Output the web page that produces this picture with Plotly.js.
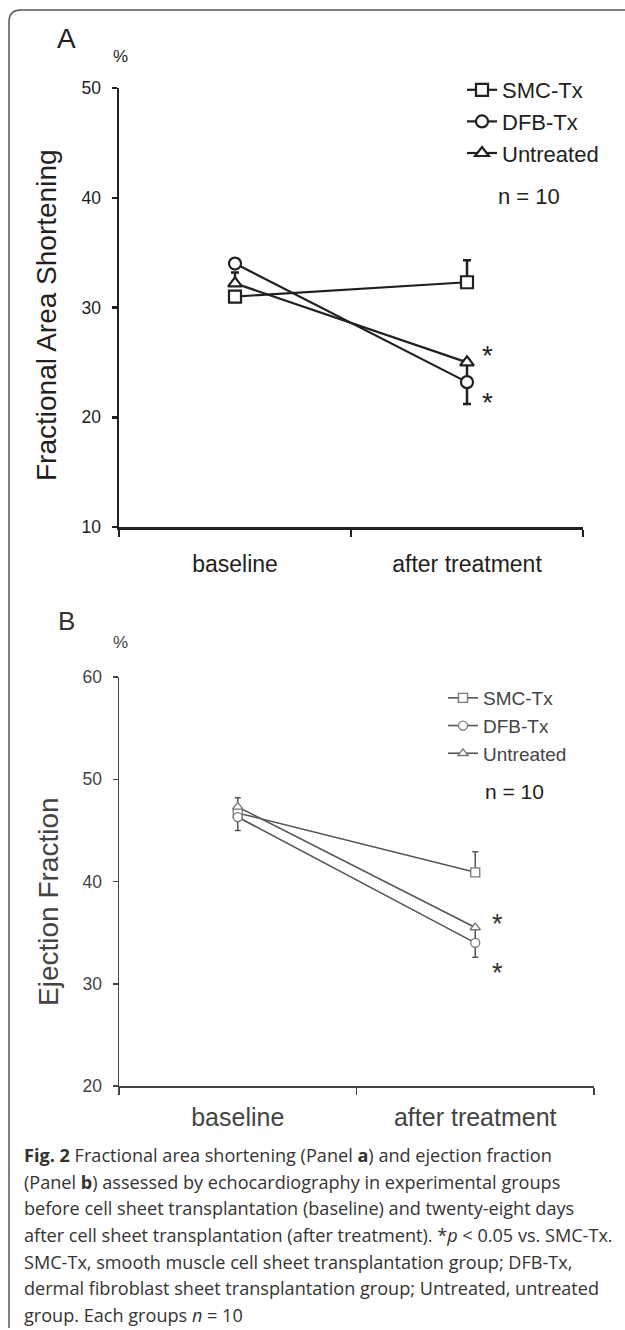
<!DOCTYPE html>
<html>
<head>
<meta charset="utf-8">
<script src="https://cdn.plot.ly/plotly-3.0.1.min.js"></script>
<style>html,body{margin:0;padding:0;background:#fff;}#chart{width:625px;height:1330px;}</style>
</head>
<body>
<div id="chart"></div>
<script>
// ---- data ----
const categories = ["baseline", "after treatment"];
const groups = ["SMC-Tx", "DFB-Tx", "Untreated"];

// Panel A: Fractional Area Shortening (%)
const fasSMC = [31.0, 32.3];
const fasSMCErrUp = [0, 2.0];
const fasSMCErrDown = [0, 0];
const fasDFB = [34.0, 23.2];
const fasDFBErrUp = [0, 2.0];
const fasDFBErrDown = [0, 2.0];
const fasUnt = [32.2, 25.0];
const fasUntErrUp = [1.0, 0];
const fasUntErrDown = [0, 0];

// Panel B: Ejection Fraction (%)
const efSMC = [46.7, 40.9];
const efSMCErrUp = [0, 2.0];
const efSMCErrDown = [0, 0];
const efDFB = [46.3, 34.0];
const efDFBErrUp = [0, 1.4];
const efDFBErrDown = [1.3, 1.4];
const efUnt = [47.3, 35.5];
const efUntErrUp = [0.9, 0];
const efUntErrDown = [0, 0];

const fasTicks = [10, 20, 30, 40, 50];
const efTicks = [20, 30, 40, 50, 60];
const nLabel = "n = 10";

// ---- helpers ----
const W = 625, H = 1330;
const px = v => v / W;
const py = v => 1 - v / H;
const xIdx = categories.map((c, i) => i);

const inkA = "#231f20";
const inkB = "#555555";
const symbols = ["square", "circle", "triangle-up"];

function traceA(name, y, up, down, sym) {
  return {
    type: "scatter", mode: "lines+markers", name: name,
    x: xIdx, y: y, xaxis: "x", yaxis: "y", legend: "legend",
    line: {color: inkA, width: 2.2},
    marker: {symbol: sym, size: 12, color: "#ffffff", line: {color: inkA, width: 2.2}},
    error_y: {type: "data", symmetric: false, array: up, arrayminus: down,
              color: inkA, thickness: 2.5, width: 4},
    cliponaxis: false
  };
}
function traceB(name, y, up, down, sym) {
  return {
    type: "scatter", mode: "lines+markers", name: name,
    x: xIdx, y: y, xaxis: "x2", yaxis: "y2", legend: "legend2",
    line: {color: inkB, width: 1.6},
    marker: {symbol: sym, size: 9, color: "#ffffff", line: {color: "#777777", width: 1.3}},
    error_y: {type: "data", symmetric: false, array: up, arrayminus: down,
              color: inkB, thickness: 1.5, width: 3},
    cliponaxis: false
  };
}

const data = [
  traceA(groups[0], fasSMC, fasSMCErrUp, fasSMCErrDown, symbols[0]),
  traceA(groups[1], fasDFB, fasDFBErrUp, fasDFBErrDown, symbols[1]),
  traceA(groups[2], fasUnt, fasUntErrUp, fasUntErrDown, symbols[2]),
  traceB(groups[0], efSMC, efSMCErrUp, efSMCErrDown, symbols[0]),
  traceB(groups[1], efDFB, efDFBErrUp, efDFBErrDown, symbols[1]),
  traceB(groups[2], efUnt, efUntErrUp, efUntErrDown, symbols[2])
];

const fontA = "Liberation Sans, Arial, sans-serif";
const capFont = "Open Sans, Noto Sans, sans-serif";

function xAxis(domain, anchor, ink, lw, size, standoff) {
  return {
    domain: domain, anchor: anchor, range: [-0.5, 1.5], fixedrange: true,
    tickmode: "array", tickvals: xIdx, ticktext: categories, ticks: "",
    ticklabelstandoff: standoff,
    tickfont: {family: fontA, size: size, color: ink},
    showline: true, linewidth: lw, linecolor: ink, showgrid: false, zeroline: false,
    minor: {tickmode: "array", tickvals: [-0.5, 0.5, 1.5], ticks: "outside",
            ticklen: 7, tickwidth: lw, tickcolor: ink, showgrid: false}
  };
}
function yAxis(domain, anchor, range, ticks, ink, lw) {
  return {
    domain: domain, anchor: anchor, range: range, fixedrange: true,
    tickmode: "array", tickvals: ticks, ticks: "outside", ticklen: 5,
    tickwidth: lw, tickcolor: ink, ticklabelstandoff: 7,
    tickfont: {family: fontA, size: 17.5, color: ink},
    showline: true, linewidth: lw, linecolor: ink, showgrid: false, zeroline: false
  };
}

const captionLines = [
  "<b>Fig. 2</b> Fractional area shortening (Panel <b>a</b>) and ejection fraction",
  "(Panel <b>b</b>) assessed by echocardiography in experimental groups",
  "before cell sheet transplantation (baseline) and twenty-eight days",
  "after cell sheet transplantation (after treatment). *<i>p</i> &lt; 0.05 vs. SMC-Tx.",
  "SMC-Tx, smooth muscle cell sheet transplantation group; DFB-Tx,",
  "dermal fibroblast sheet transplantation group; Untreated, untreated",
  "group. Each groups <i>n</i> = 10"
];
const captionY = [1155, 1182, 1208, 1235, 1262, 1288, 1315];

const annotations = [
  {text: "A", xref: "paper", yref: "paper", x: px(66), y: py(38), xanchor: "center", yanchor: "middle",
   showarrow: false, font: {family: fontA, size: 28, color: inkA}},
  {text: "%", xref: "paper", yref: "paper", x: px(120), y: py(57), xanchor: "center", yanchor: "middle",
   showarrow: false, font: {family: fontA, size: 17, color: inkA}},
  {text: "Fractional Area Shortening", xref: "paper", yref: "paper", x: px(47), y: py(315),
   xanchor: "center", yanchor: "middle", textangle: -90, showarrow: false,
   font: {family: fontA, size: 28, color: inkA}},
  {text: nLabel, xref: "paper", yref: "paper", x: px(529), y: py(197), xanchor: "center", yanchor: "middle",
   showarrow: false, font: {family: fontA, size: 22, color: inkA}},
  {text: "*", xref: "x", yref: "y", x: 1, y: 25.6, xshift: 20, xanchor: "center", yanchor: "middle",
   showarrow: false, font: {family: fontA, size: 28, color: inkA}},
  {text: "*", xref: "x", yref: "y", x: 1, y: 21.3, xshift: 20, xanchor: "center", yanchor: "middle",
   showarrow: false, font: {family: fontA, size: 28, color: inkA}},

  {text: "B", xref: "paper", yref: "paper", x: px(66), y: py(621), xanchor: "center", yanchor: "middle",
   showarrow: false, font: {family: fontA, size: 26, color: "#333"}},
  {text: "%", xref: "paper", yref: "paper", x: px(120), y: py(642), xanchor: "center", yanchor: "middle",
   showarrow: false, font: {family: fontA, size: 17, color: "#444"}},
  {text: "Ejection Fraction", xref: "paper", yref: "paper", x: px(48), y: py(901),
   xanchor: "center", yanchor: "middle", textangle: -90, showarrow: false,
   font: {family: fontA, size: 28, color: "#444"}},
  {text: nLabel, xref: "paper", yref: "paper", x: px(514), y: py(791), xanchor: "center", yanchor: "middle",
   showarrow: false, font: {family: fontA, size: 21, color: "#222"}},
  {text: "*", xref: "x2", yref: "y2", x: 1, y: 35.8, xshift: 22, xanchor: "center", yanchor: "middle",
   showarrow: false, font: {family: fontA, size: 27, color: "#333"}},
  {text: "*", xref: "x2", yref: "y2", x: 1, y: 31.1, xshift: 22, xanchor: "center", yanchor: "middle",
   showarrow: false, font: {family: fontA, size: 27, color: "#333"}}
];
captionLines.forEach((t, i) => {
  annotations.push({text: t, xref: "paper", yref: "paper", x: px(22), y: py(captionY[i]),
    xanchor: "left", yanchor: "middle", showarrow: false, align: "left",
    font: {family: capFont, size: 18.1, color: "#333"}});
});

const r = 12;
const borderPath = "M " + px(9) + "," + py(1328) + " L " + px(9) + "," + py(10 + r) +
  " Q " + px(9) + "," + py(10) + " " + px(9 + r) + "," + py(10) + " L " + px(630) + "," + py(10);

const layout = {
  width: W, height: H, margin: {l: 0, r: 0, t: 0, b: 0},
  paper_bgcolor: "#ffffff", plot_bgcolor: "rgba(0,0,0,0)",
  showlegend: true,
  xaxis: xAxis([px(119), px(583)], "y", inkA, 2.5, 23, 15),
  yaxis: yAxis([py(527), py(88)], "x", [10, 50], fasTicks, inkA, 2.5),
  xaxis2: xAxis([px(119), px(594)], "y2", "#444", 1.5, 25, 8),
  yaxis2: yAxis([py(1086), py(677)], "x2", [20, 60], efTicks, "#444", 1.5),
  legend: {x: px(462), y: py(69), xanchor: "left", yanchor: "top", bgcolor: "rgba(0,0,0,0)",
           font: {family: fontA, size: 22, color: inkA}, itemwidth: 30, tracegroupgap: 0},
  legend2: {x: px(443), y: py(679), xanchor: "left", yanchor: "top", bgcolor: "rgba(0,0,0,0)",
            font: {family: fontA, size: 19, color: "#444"}, itemwidth: 30, tracegroupgap: 0},
  annotations: annotations,
  shapes: [{type: "path", xref: "paper", yref: "paper", path: borderPath,
            line: {color: "#555", width: 1.5}, layer: "below"}]
};

Plotly.newPlot("chart", data, layout, {displayModeBar: false, staticPlot: true});
</script>
</body>
</html>
